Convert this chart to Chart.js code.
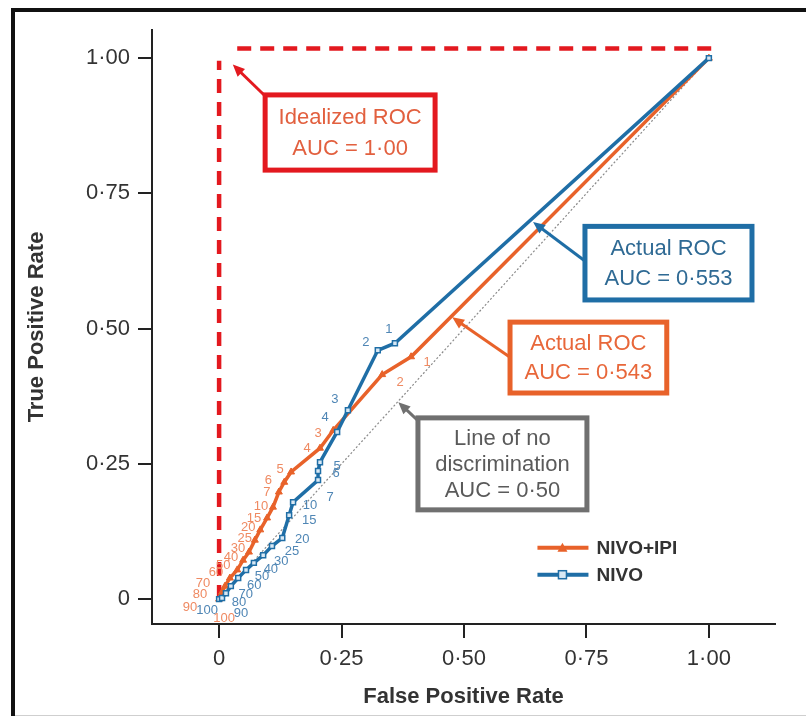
<!DOCTYPE html>
<html>
<head>
<meta charset="utf-8">
<script src="https://cdn.jsdelivr.net/npm/chart.js@4"></script>
<style>
  html, body { margin: 0; padding: 0; background: #ffffff; }
  #wrap { width: 806px; height: 716px; }
</style>
</head>
<body>
<div id="wrap"><canvas id="c" width="806" height="716"></canvas></div>
<script>
// ---------- data ----------
const seriesNames = ['NIVO+IPI', 'NIVO'];
const xTickValues = [0, 0.25, 0.5, 0.75, 1];
const xTickLabels = ['0', '0·25', '0·50', '0·75', '1·00'];
const yTickValues = [0, 0.25, 0.5, 0.75, 1];
const yTickLabels = ['0', '0·25', '0·50', '0·75', '1·00'];
const xAxisTitle = 'False Positive Rate';
const yAxisTitle = 'True Positive Rate';

// NIVO+IPI ROC points (from cutoff 100 down to the end point)
const comboCutoffs = ['100', '90', '80', '70', '60', '50', '40', '30', '25', '20', '15', '10', '7', '6', '5', '4', '3', '2', '1', ''];
const comboFPR = [0, 0.002, 0.006, 0.012, 0.022, 0.037, 0.049, 0.061, 0.073, 0.084, 0.098, 0.110, 0.122, 0.133, 0.147, 0.206, 0.233, 0.333, 0.392, 1.0];
const comboTPR = [0, 0.004, 0.013, 0.024, 0.039, 0.054, 0.072, 0.087, 0.109, 0.128, 0.150, 0.170, 0.198, 0.216, 0.235, 0.279, 0.312, 0.415, 0.448, 1.0];

// NIVO ROC points
const nivoCutoffs = ['100', '90', '80', '70', '60', '50', '40', '30', '25', '20', '15', '10', '7', '6', '5', '4', '3', '2', '1', ''];
const nivoFPR = [0, 0.006, 0.014, 0.024, 0.039, 0.055, 0.071, 0.090, 0.108, 0.129, 0.143, 0.151, 0.202, 0.202, 0.206, 0.241, 0.263, 0.324, 0.359, 1.0];
const nivoTPR = [0, 0.002, 0.011, 0.024, 0.039, 0.054, 0.067, 0.081, 0.098, 0.113, 0.155, 0.179, 0.220, 0.237, 0.253, 0.309, 0.349, 0.460, 0.473, 1.0];

// Idealized ROC (drawn as two dashed segments) and line of no discrimination
const idealUpX = [0, 0];
const idealUpY = [0, 0.995];
const idealTopX = [0.037, 1.022];
const idealTopY = [1.018, 1.018];
const noDiscX = [0, 1];
const noDiscY = [0, 1];

// annotation texts
const idealText = ['Idealized ROC', 'AUC = 1·00'];
const nivoText = ['Actual ROC', 'AUC = 0·553'];
const comboText = ['Actual ROC', 'AUC = 0·543'];
const noDiscText = ['Line of no', 'discrimination', 'AUC = 0·50'];

// ---------- helpers ----------
const FONT = '"Liberation Sans", Arial, Helvetica, sans-serif';
const ORANGE = '#e8622a';
const BLUE = '#1f6ea6';
const RED = '#e3191f';
const GREY = '#707070';
const toPts = (xs, ys) => xs.map((x, i) => ({ x: x, y: ys[i] }));

// label offsets (pixels) — style only
const comboLabelOffset = (lab) => ({
  '1': [16, 6], '2': [18, 8], '3': [-15, 3], '4': [-13, 0], '5': [-11, -3], '6': [-16, -2], '7': [-12, 0],
  '10': [-12, -1], '15': [-13, 0], '20': [-12, -2], '25': [-10, -2], '30': [-11, -4], '40': [-12, -3],
  '50': [-14, -4], '60': [-14, -6], '70': [-22, -3], '80': [-22, 2], '90': [-30, 10], '100': [5, 19]
}[lab] || [-12, 0]);
const nivoLabelOffset = (lab) => ({
  '1': [-6, -14], '2': [-12, -8], '3': [-13, -11], '4': [-12, -15], '5': [17, 4], '6': [18, 3], '7': [12, 17],
  '10': [17, 3], '15': [20, 5], '20': [20, 1], '25': [20, 5], '30': [18, 6], '40': [17, 7],
  '50': [16, 7], '60': [16, 7], '70': [15, 8], '80': [13, 9], '90': [19, 15], '100': [-12, 11]
}[lab] || [14, 6]);

// ---------- plugins ----------
const framePlugin = {
  id: 'frame',
  beforeDraw(chart) {
    const c = chart.ctx;
    c.save();
    c.fillStyle = '#ffffff';
    c.fillRect(0, 0, chart.width, chart.height);
    c.fillStyle = '#111111';
    c.fillRect(11, 8, 4, chart.height - 8);
    c.fillRect(11, 8, chart.width - 11, 4);
    c.fillStyle = '#cfcfcf';
    c.fillRect(15, chart.height - 1, chart.width - 15, 1);
    c.restore();
  }
};

const pointLabelPlugin = {
  id: 'pointLabels',
  afterDatasetsDraw(chart) {
    const c = chart.ctx;
    c.save();
    c.font = '13px ' + FONT;
    c.textAlign = 'center';
    c.textBaseline = 'middle';
    chart.data.datasets.forEach((ds, di) => {
      if (!ds.cutoffs) return;
      const meta = chart.getDatasetMeta(di);
      meta.data.forEach((el, i) => {
        const lab = ds.cutoffs[i];
        if (!lab) return;
        const off = ds.labelOffset(lab);
        c.fillStyle = ds.labelColor;
        c.fillText(lab, el.x + off[0], el.y + off[1]);
      });
    });
    c.restore();
  }
};

function arrow(c, x0, y0, x1, y1, color, w) {
  const ang = Math.atan2(y1 - y0, x1 - x0);
  const head = 13, spread = 0.42;
  c.strokeStyle = color;
  c.fillStyle = color;
  c.lineWidth = w;
  c.beginPath();
  c.moveTo(x0, y0);
  c.lineTo(x1 - Math.cos(ang) * head * 0.7, y1 - Math.sin(ang) * head * 0.7);
  c.stroke();
  c.beginPath();
  c.moveTo(x1, y1);
  c.lineTo(x1 - head * Math.cos(ang - spread), y1 - head * Math.sin(ang - spread));
  c.lineTo(x1 - head * Math.cos(ang + spread), y1 - head * Math.sin(ang + spread));
  c.closePath();
  c.fill();
}

const annotationPlugin = {
  id: 'boxes',
  afterDatasetsDraw(chart, args, opts) {
    const c = chart.ctx;
    const xs = chart.scales.x, ys = chart.scales.y;
    c.save();
    opts.items.forEach(it => {
      const left = xs.getPixelForValue(it.box[0]);
      const right = xs.getPixelForValue(it.box[1]);
      const top = ys.getPixelForValue(it.box[2]);
      const bottom = ys.getPixelForValue(it.box[3]);
      // arrow
      arrow(c, xs.getPixelForValue(it.from[0]), ys.getPixelForValue(it.from[1]),
               xs.getPixelForValue(it.to[0]), ys.getPixelForValue(it.to[1]), it.border, 3);
      // box
      c.fillStyle = '#ffffff';
      c.fillRect(left, top, right - left, bottom - top);
      c.strokeStyle = it.border;
      c.lineWidth = 5;
      c.strokeRect(left, top, right - left, bottom - top);
      // text
      c.fillStyle = it.color;
      c.font = '22px ' + FONT;
      c.textAlign = 'center';
      c.textBaseline = 'middle';
      const cx = (left + right) / 2, cy = (top + bottom) / 2;
      const lh = it.lineHeight;
      const n = it.text.length;
      it.text.forEach((t, k) => {
        c.fillText(t, cx, cy + (k - (n - 1) / 2) * lh + 1);
      });
    });
    c.restore();
  }
};

const legendPlugin = {
  id: 'innerLegend',
  afterDatasetsDraw(chart, args, opts) {
    const c = chart.ctx;
    const xs = chart.scales.x, ys = chart.scales.y;
    c.save();
    opts.entries.forEach((en, k) => {
      const ds = chart.data.datasets[en.index];
      const x0 = xs.getPixelForValue(opts.at[0]);
      const y = ys.getPixelForValue(opts.at[1]) + k * 27;
      c.strokeStyle = ds.borderColor;
      c.lineWidth = 4;
      c.beginPath();
      c.moveTo(x0, y);
      c.lineTo(x0 + 51, y);
      c.stroke();
      // marker
      const mx = x0 + 25;
      c.lineWidth = 1.5;
      if (ds.pointStyle === 'triangle') {
        c.fillStyle = ds.pointBackgroundColor;
        c.beginPath();
        c.moveTo(mx, y - 5);
        c.lineTo(mx + 5, y + 4);
        c.lineTo(mx - 5, y + 4);
        c.closePath();
        c.fill();
      } else {
        c.fillStyle = ds.pointBackgroundColor;
        c.fillRect(mx - 4, y - 4, 8, 8);
        c.strokeStyle = ds.pointBorderColor;
        c.strokeRect(mx - 4, y - 4, 8, 8);
      }
      c.fillStyle = '#333333';
      c.font = 'bold 19px ' + FONT;
      c.textAlign = 'left';
      c.textBaseline = 'middle';
      c.fillText(ds.label, x0 + 59, y + 1);
    });
    c.restore();
  }
};

// ---------- chart ----------
const ctx = document.getElementById('c').getContext('2d');
new Chart(ctx, {
  type: 'scatter',
  data: {
    datasets: [
      {
        label: seriesNames[1],
        data: toPts(nivoFPR, nivoTPR),
        showLine: true, tension: 0,
        borderColor: BLUE, borderWidth: 3.5,
        pointStyle: 'rect', pointRadius: 3.5, pointBorderWidth: 1.5,
        pointBorderColor: BLUE, pointBackgroundColor: '#d8e8f4',
        cutoffs: nivoCutoffs, labelColor: '#4f86b5', labelOffset: nivoLabelOffset,
        order: 1
      },
      {
        label: seriesNames[0],
        data: toPts(comboFPR, comboTPR),
        showLine: true, tension: 0,
        borderColor: ORANGE, borderWidth: 3.5,
        pointStyle: 'triangle', pointRadius: 4, pointBorderWidth: 1,
        pointBorderColor: ORANGE, pointBackgroundColor: ORANGE,
        cutoffs: comboCutoffs, labelColor: '#ef8a62', labelOffset: comboLabelOffset,
        order: 2
      },
      {
        label: 'no discrimination',
        data: toPts(noDiscX, noDiscY),
        showLine: true, borderColor: '#8a8a8a', borderWidth: 1.2,
        borderDash: [2, 2], pointRadius: 0, order: 3
      },
      {
        label: 'ideal-up',
        data: toPts(idealUpX, idealUpY),
        showLine: true, borderColor: RED, borderWidth: 4.5,
        borderDash: [14, 9], pointRadius: 0, order: 4
      },
      {
        label: 'ideal-top',
        data: toPts(idealTopX, idealTopY),
        showLine: true, borderColor: RED, borderWidth: 4.5,
        borderDash: [14, 9], pointRadius: 0, order: 4
      }
    ]
  },
  options: {
    responsive: false,
    animation: false,
    layout: { padding: { left: 0, top: 30, right: 31, bottom: 0 } },
    plugins: {
      legend: { display: false },
      tooltip: { enabled: false },
      boxes: {
        items: [
          { text: idealText, box: [0.094, 0.441, 0.932, 0.793], from: [0.094, 0.93], to: [0.028, 0.988],
            border: RED, color: '#e2603f', lineHeight: 31 },
          { text: nivoText, box: [0.747, 1.088, 0.689, 0.553], from: [0.747, 0.625], to: [0.641, 0.697],
            border: BLUE, color: '#2f6a94', lineHeight: 30 },
          { text: comboText, box: [0.594, 0.914, 0.512, 0.381], from: [0.594, 0.447], to: [0.476, 0.521],
            border: ORANGE, color: '#e8673a', lineHeight: 29 },
          { text: noDiscText, box: [0.406, 0.751, 0.335, 0.165], from: [0.406, 0.33], to: [0.366, 0.364],
            border: GREY, color: '#5a5a5a', lineHeight: 26 }
        ]
      },
      innerLegend: { at: [0.65, 0.095], entries: [{ index: 1 }, { index: 0 }] }
    },
    scales: {
      x: {
        type: 'linear', min: -0.137, max: 1.135,
        afterBuildTicks: s => { s.ticks = xTickValues.map(v => ({ value: v })); },
        afterFit: s => { s.height = 92; },
        ticks: {
          callback: (v, i) => xTickLabels[i],
          font: { family: FONT, size: 22 }, color: '#333333',
          padding: 8, maxRotation: 0, autoSkip: false
        },
        grid: { drawOnChartArea: false, drawTicks: true, tickLength: 14, color: '#222222', lineWidth: 2 },
        border: { display: true, color: '#222222', width: 2 },
        title: {
          display: true, text: xAxisTitle, color: '#333333',
          font: { family: FONT, size: 22, weight: 'bold' },
          padding: { top: 0, bottom: 6 }
        }
      },
      y: {
        type: 'linear', min: -0.046, max: 1.052,
        afterBuildTicks: s => { s.ticks = yTickValues.map(v => ({ value: v })); },
        afterFit: s => { s.width = 152; },
        ticks: {
          callback: (v, i) => yTickLabels[i],
          font: { family: FONT, size: 22 }, color: '#333333',
          padding: 8, autoSkip: false
        },
        grid: { drawOnChartArea: false, drawTicks: true, tickLength: 14, color: '#222222', lineWidth: 2 },
        border: { display: true, color: '#222222', width: 2 },
        title: {
          display: true, text: yAxisTitle, color: '#333333',
          font: { family: FONT, size: 22, weight: 'bold' },
          padding: { top: 24, bottom: 0 }
        }
      }
    }
  },
  plugins: [framePlugin, pointLabelPlugin, annotationPlugin, legendPlugin]
});
</script>
</body>
</html>
